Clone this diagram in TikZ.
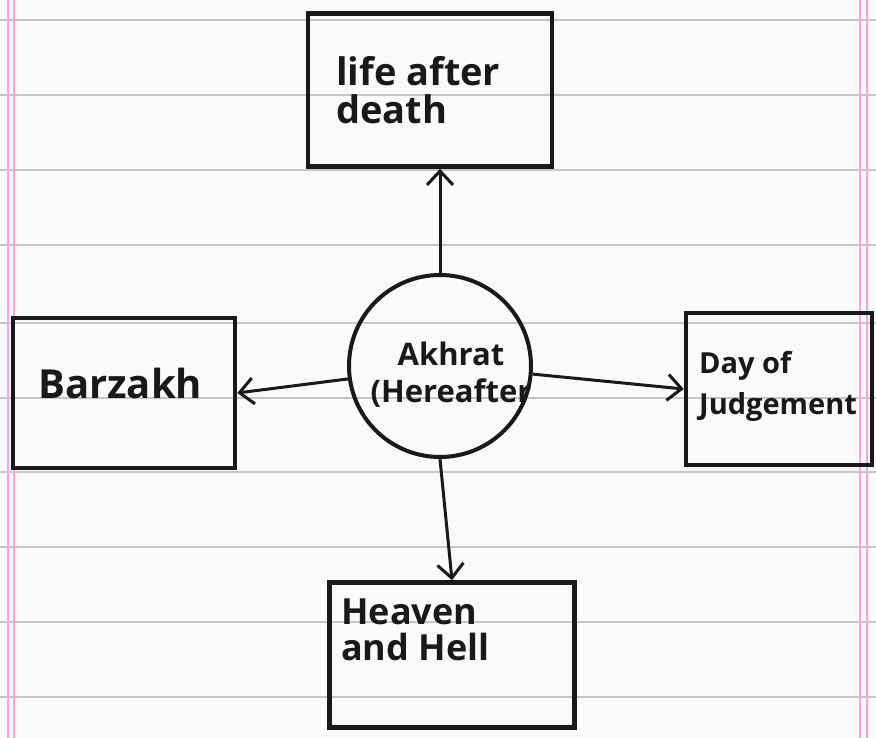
\documentclass[tikz,border=0pt]{standalone}
\usepackage{fontspec}
\setmainfont{Open Sans}
\usetikzlibrary{arrows.meta}
\begin{document}
\begin{tikzpicture}[x=1pt,y=-1pt,
  box/.style={draw=black!90, line width=4.5pt, rectangle, inner sep=0pt},
  hand/.style={align=left, inner sep=0pt, text=black!90},
  conn/.style={draw=black!90, line width=3pt, -{Straight Barb[length=14pt,width=26pt,line width=3pt]}},
  ruled/.style={draw=gray!45, line width=1.6pt},
  margin/.style={draw=magenta!35, line width=1.2pt}]
\useasboundingbox (0,0) rectangle (876,738);
\fill[gray!4] (0,0) rectangle (876,738);
% ruled paper
\foreach \yy in {20,95,170,245,323,398,472,547,622,697}
  \draw[ruled] (0,\yy) -- (876,\yy);
\draw[margin] (8,0) -- (8,738);
\draw[margin] (14,0) -- (14,738);
\draw[margin] (860,0) -- (860,738);
\draw[margin] (867,0) -- (867,738);
% boxes
\node[box, minimum width=244pt, minimum height=153pt] (life) at (430,90) {};
\node[box, minimum width=222pt, minimum height=150pt] (barz) at (124,393) {};
\node[box, minimum width=186pt, minimum height=152pt] (day) at (779,389) {};
\node[box, minimum width=245pt, minimum height=145pt] (heav) at (452,655) {};
\node[draw=black!90, line width=4pt, circle, minimum size=182pt, inner sep=0pt] (akh) at (440,366) {};
% texts
\node[hand, anchor=west, font=\fontsize{38}{44}\bfseries] (lifet) at (336,90) {life after\\[-6pt]death};
\node[hand, anchor=west, font=\fontsize{40}{46}\bfseries] (barzt) at (38,383) {Barzakh};
\node[hand, anchor=west, font=\fontsize{29}{35}\bfseries] (dayt) at (699,386) {Day of\\[6pt]Judgement};
\node[hand, anchor=west, font=\fontsize{36}{42}\bfseries] (heavt) at (341,630) {Heaven\\[-6pt]and Hell};
\node[hand, align=center, font=\fontsize{31}{37}\bfseries] (akht) at (451,375) {Akhrat\\(Hereafter};
% connectors
\draw[conn] (akh.north) -- (akh.north |- life.south);
\draw[conn] (akh.188) -- (barz.east);
\draw[conn] (akh.355) -- (day.west);
\draw[conn] (akh.south) -- (heav.north);
\end{tikzpicture}
\end{document}
